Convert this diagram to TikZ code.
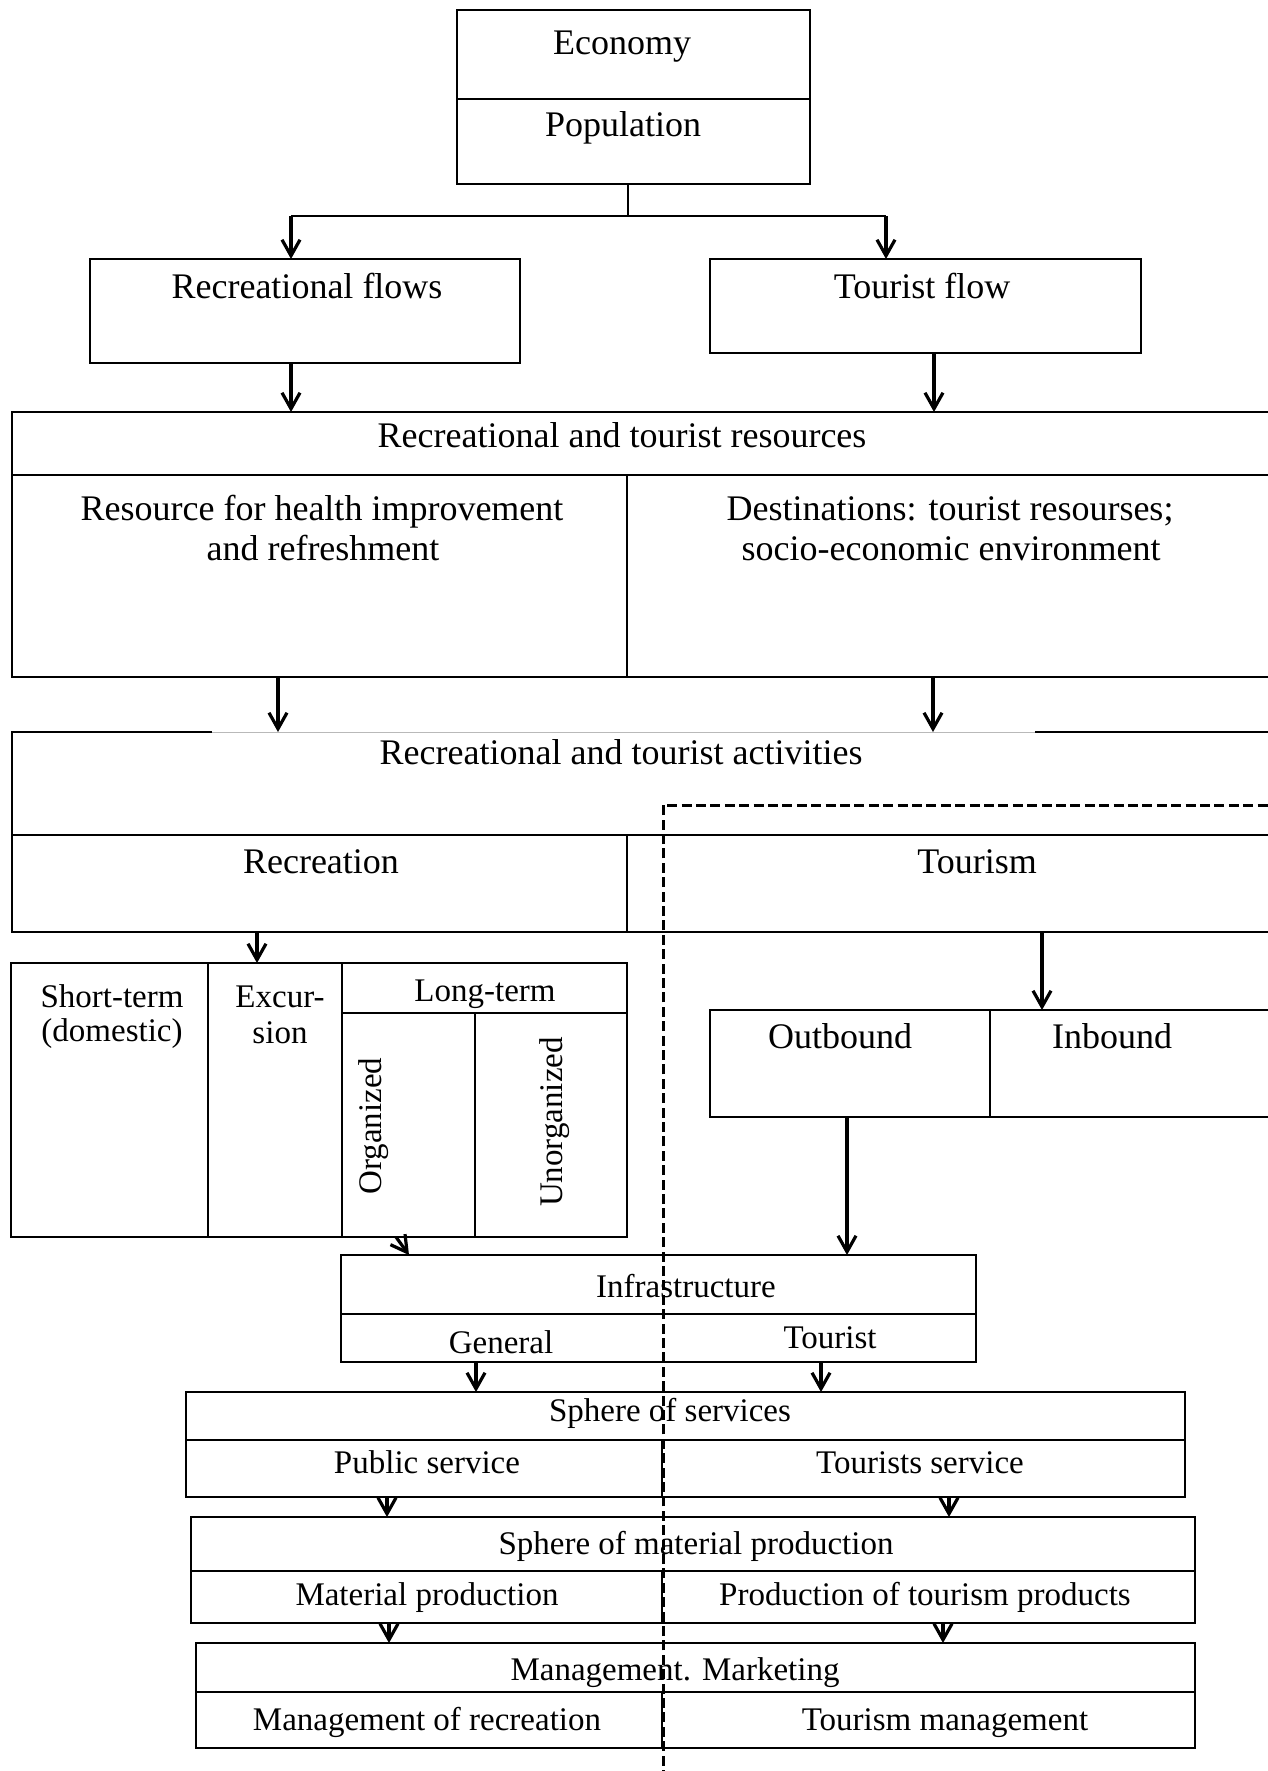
\documentclass[tikz,border=0pt]{standalone}
\usepackage{fontspec}
\setmainfont{Liberation Serif}
\usetikzlibrary{arrows.meta,fit}

\begin{document}
\begin{tikzpicture}[x=0.5pt, y=-0.5pt,
    cell/.style={draw, line width=1.1pt, inner sep=0pt, outer sep=0pt},
    big/.style={font=\fontsize{18}{20}\selectfont, anchor=base, inner sep=0pt},
    small/.style={font=\fontsize{16.5}{18}\selectfont, anchor=base, inner sep=0pt},
    flow/.style={line width=1.6pt, -{Straight Barb[length=8pt,width=9pt]}},
    border/.style={line width=1.5pt, dash pattern=on 5pt off 2.2pt}]
    \def\xMid{627}    % divider recreation / tourism
    \def\xSplit{662}  % divider in the lower boxes
    \def\xDash{663}   % dashed border of tourism
    \def\xRight{1280} % wide boxes run off the page

    \useasboundingbox (0,0) rectangle (1268,1771);
    \clip (0,0) rectangle (1268,1771);

    % Economy and population
    \node[cell, fit={(457,10) (810,99)}] (econ) {};
    \node[cell, fit={(457,99) (810,184)}] (pop) {};
    \node[big] (econT) at (622,55) {Economy};
    \node[big] (popT) at (623,137) {Population};

    % Flows
    \node[cell, fit={(90,259) (520,363)}] (rf) {};
    \node[cell, fit={(710,259) (1141,353)}] (tf) {};
    \node[big] (rfT) at (307,299) {Recreational flows};
    \node[big] (tfT) at (922,299) {Tourist flow};

    % Resources
    \node[cell, fit={(12,412) (\xRight,475)}] (res) {};
    \node[cell, fit={(12,475) (\xMid,677)}] (health) {};
    \node[cell, fit={(\xMid,475) (\xRight,677)}] (dest) {};
    \node[big] (resT) at (622,447) {Recreational and tourist resources};
    \node[big] (healthA) at (322,520) {Resource for health improvement};
    \node[big] (healthB) at (323,560) {and refreshment};
    \node[big] (destA) at (950,520) {Destinations: tourist resourses;};
    \node[big] (destB) at (951,560) {socio-economic environment};

    % Activities
    \node[inner sep=0pt, outer sep=0pt, fit={(12,732) (\xRight,835)}] (act) {};
    \draw[line width=1.1pt] (212,732) -- (act.north west) -- (act.south west);
    \draw[line width=1.1pt] (1035,732) -- (act.north east);
    \draw[gray!55, line width=0.5pt] (212,732) -- (1035,732);
    \node[cell, fit={(12,835) (\xMid,932)}] (recr) {};
    \node[cell, fit={(\xMid,835) (\xRight,932)}] (tour) {};
    \node[big] (actT) at (621,764) {Recreational and tourist activities};
    \node[big] (recrT) at (321,873) {Recreation};
    \node[big] (tourT) at (977,873) {Tourism};

    % Kinds of recreation
    \node[cell, fit={(11,963) (208,1237)}] (short) {};
    \node[cell, fit={(208,963) (342,1237)}] (excur) {};
    \node[cell, fit={(342,963) (\xMid,1013)}] (long) {};
    \node[cell, fit={(342,1013) (475,1237)}] (org) {};
    \node[cell, fit={(475,1013) (\xMid,1237)}] (unorg) {};
    \node[small] (shortA) at (112,1007) {Short-term};
    \node[small] (shortB) at (112,1041) {(domestic)};
    \node[small] (excurA) at (280,1007) {Excur-};
    \node[small] (excurB) at (280,1043) {sion};
    \node[small] (longT) at (485,1001) {Long-term};
    \node[small, rotate=90] (orgT) at (381,1126) {Organized};
    \node[small, rotate=90] (unorgT) at (562,1122) {Unorganized};

    % Kinds of tourism
    \node[cell, fit={(710,1010) (990,1117)}] (outb) {};
    \node[cell, fit={(990,1010) (\xRight,1117)}] (inb) {};
    \node[big] (outbT) at (840,1048) {Outbound};
    \node[big] (inbT) at (1112,1048) {Inbound};

    % Infrastructure
    \node[cell, fit={(341,1255) (976,1314)}] (infra) {};
    \node[cell, fit={(341,1314) (976,1362)}] (infraLow) {};
    \node[small] (infraT) at (686,1297) {Infrastructure};
    \node[small] (genT) at (501,1353) {General};
    \node[small] (touristT) at (830,1348) {Tourist};

    % Sphere of services
    \node[cell, fit={(186,1392) (1185,1440)}] (serv) {};
    \node[cell, fit={(186,1440) (\xSplit,1497)}] (pub) {};
    \node[cell, fit={(\xSplit,1440) (1185,1497)}] (tserv) {};
    \node[small] (servT) at (670,1421) {Sphere of services};
    \node[small] (pubT) at (427,1473) {Public service};
    \node[small] (tservT) at (920,1473) {Tourists service};

    % Sphere of material production
    \node[cell, fit={(191,1517) (1195,1571)}] (mat) {};
    \node[cell, fit={(191,1571) (\xSplit,1623)}] (matProd) {};
    \node[cell, fit={(\xSplit,1571) (1195,1623)}] (tProd) {};
    \node[small] (matT) at (696,1554) {Sphere of material production};
    \node[small] (matProdT) at (427,1605) {Material production};
    \node[small] (tProdT) at (925,1605) {Production of tourism products};

    % Management
    \node[cell, fit={(196,1643) (1195,1692)}] (man) {};
    \node[cell, fit={(196,1692) (\xSplit,1748)}] (manRec) {};
    \node[cell, fit={(\xSplit,1692) (1195,1748)}] (tMan) {};
    \node[small] (manT) at (675,1680) {Management. Marketing};
    \node[small] (manRecT) at (427,1730) {Management of recreation};
    \node[small] (tManT) at (945,1730) {Tourism management};

    % Arrows
    \coordinate (split) at (628,216);
    \coordinate (splitL) at (291,216);
    \coordinate (splitR) at (886,216);
    \draw[line width=1.1pt] (pop.south -| split) -- (split);
    \draw[line width=1.1pt] (splitL) -- (splitR);
    \draw[flow] (splitL) -- (rf.north -| splitL);
    \draw[flow] (splitR) -- (tf.north -| splitR);
    \draw[flow] (rf.south -| 291,0) -- (res.north -| 291,0);
    \draw[flow] (tf.south -| 934,0) -- (res.north -| 934,0);
    \draw[flow] (health.south -| 278,0) -- (act.north -| 278,0);
    \draw[flow] (dest.south -| 933,0) -- (act.north -| 933,0);
    \draw[flow] (recr.south -| 257,0) -- (excur.north -| 257,0);
    \draw[flow] (tour.south -| 1042,0) -- (inb.north -| 1042,0);
    \draw[flow] (outb.south -| 847,0) -- (infra.north -| 847,0);
    \draw[flow] (org.south -| 396,0) -- (infra.north -| 409,0);
    \draw[flow] (infraLow.south -| 476,0) -- (serv.north -| 476,0);
    \draw[flow] (infraLow.south -| 821,0) -- (serv.north -| 821,0);
    \draw[flow] (pub.south -| 387,0) -- (mat.north -| 387,0);
    \draw[flow] (tserv.south -| 949,0) -- (mat.north -| 949,0);
    \draw[flow] (matProd.south -| 389,0) -- (man.north -| 389,0);
    \draw[flow] (tProd.south -| 943,0) -- (man.north -| 943,0);

    % Dashed border of tourism
    \coordinate (dashTop) at (\xDash,805);
    \draw[border] (\xDash,1780) -- (dashTop) -- (\xRight,805);
\end{tikzpicture}
\end{document}
